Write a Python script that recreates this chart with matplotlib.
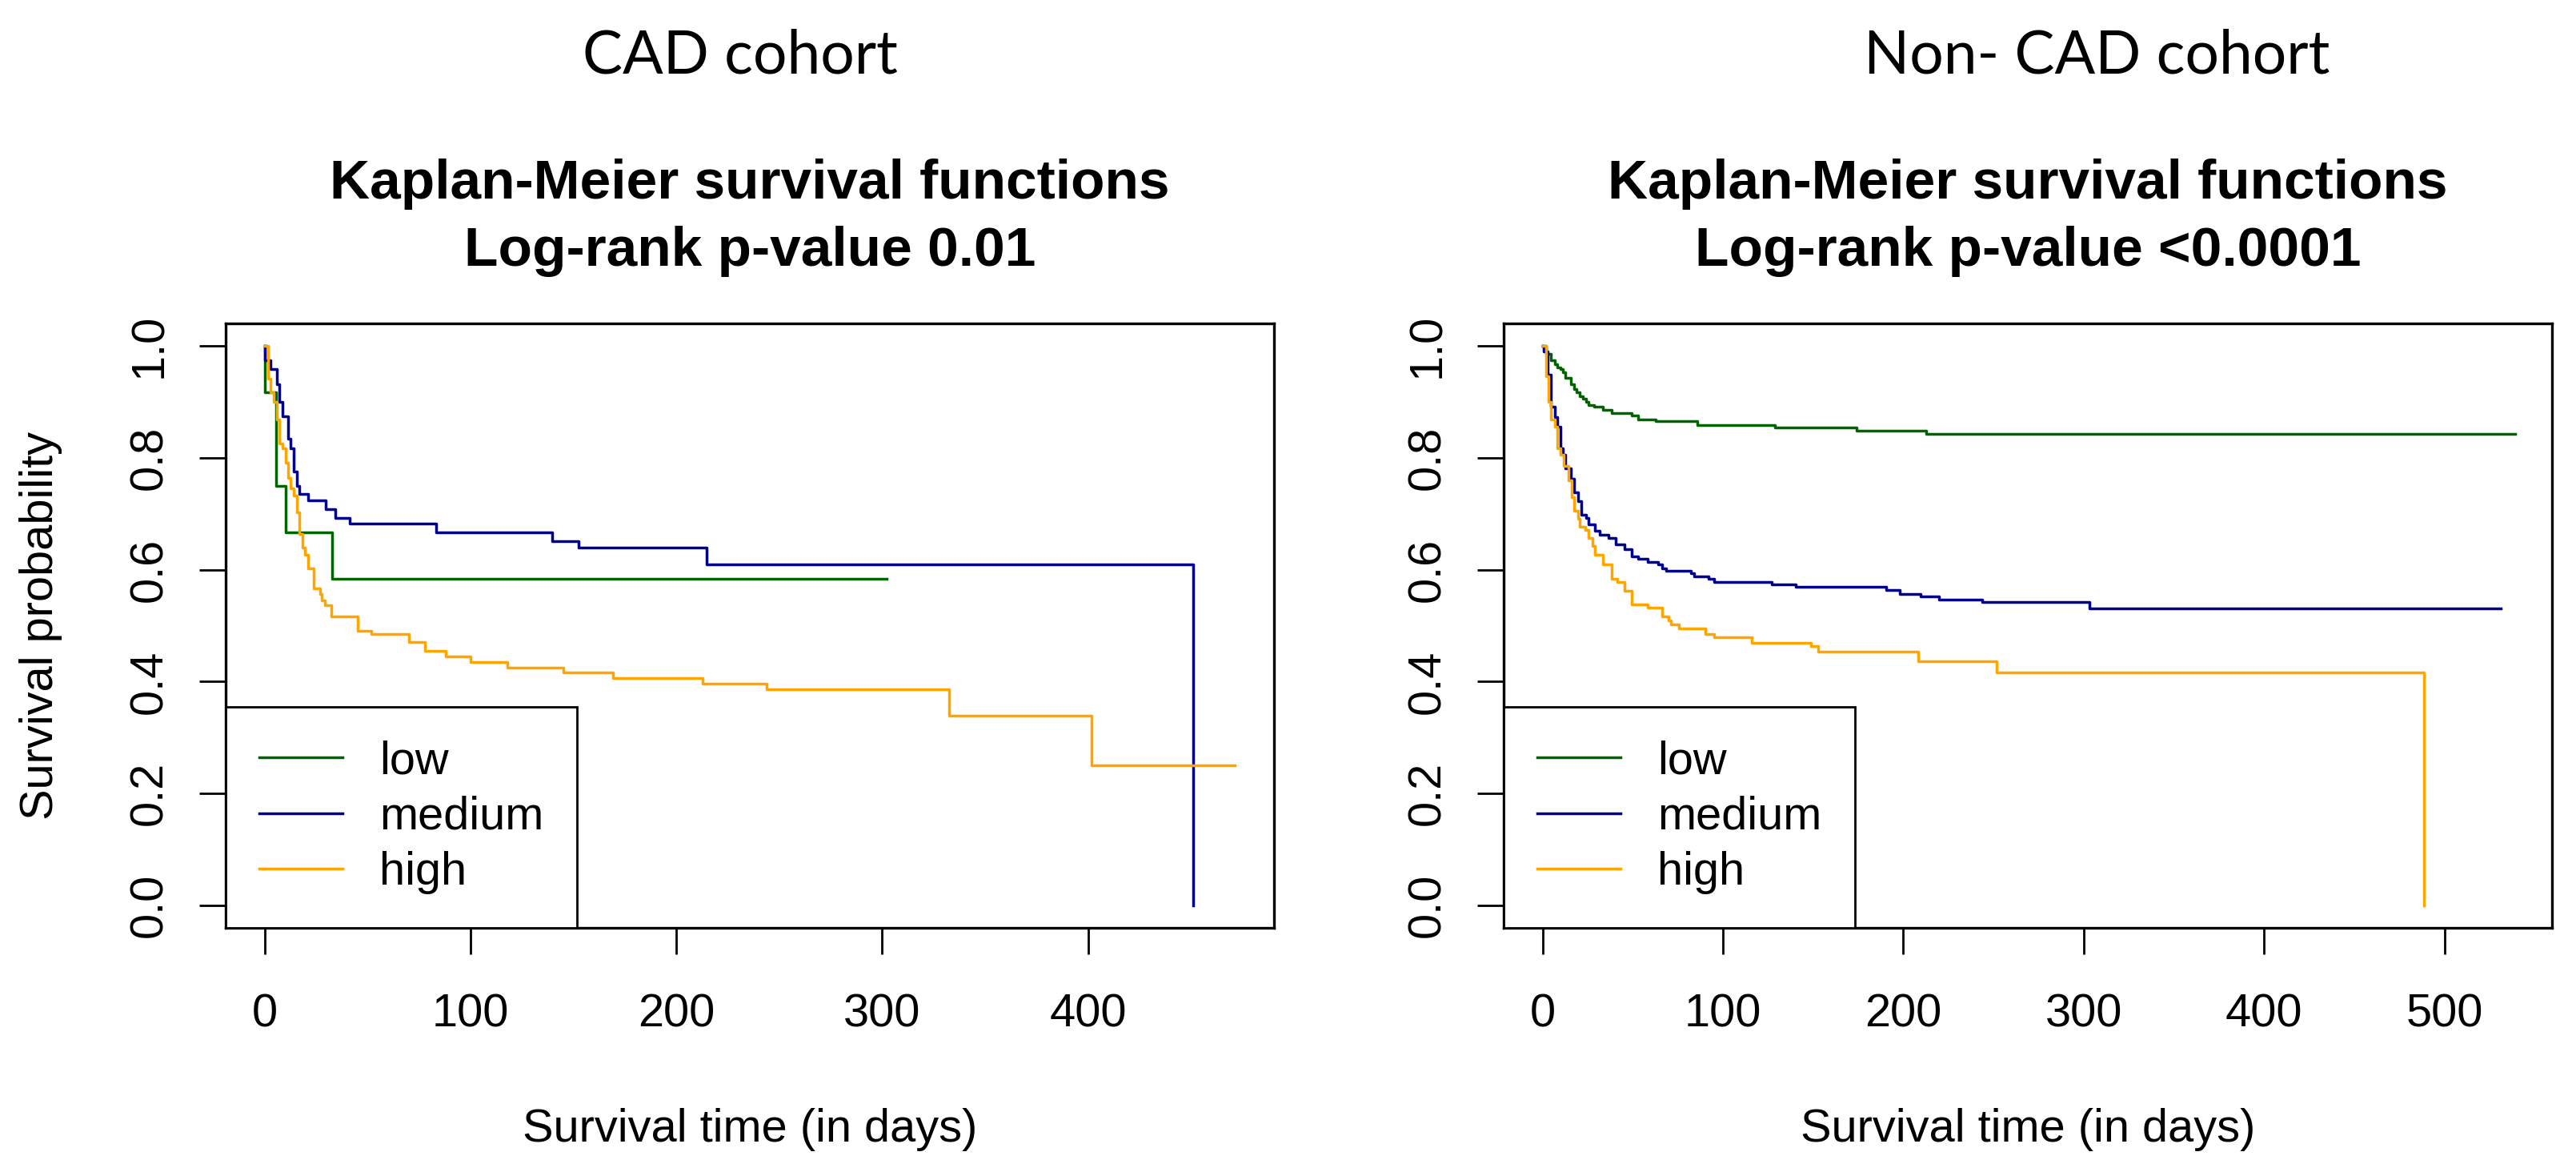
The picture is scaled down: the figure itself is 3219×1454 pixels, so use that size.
import matplotlib
matplotlib.use('Agg')
import matplotlib.pyplot as plt
from matplotlib.ticker import FormatStrFormatter, MultipleLocator

# ---- data (time in days, survival probability) ----
cad_low_t = [0, 0.3, 5.6, 10.2, 32.7, 302.4]
cad_low_s = [1.0, 0.917, 0.75, 0.667, 0.583, 0.583]

cad_med_t = [0, 0.3, 3.0, 5.9, 7.1, 8.6, 11.4, 12.8, 14.3, 15.6, 16.9, 21.2, 29.9,
             34.2, 41.3, 83.3, 139.6, 152.4, 214.7, 451.0]
cad_med_s = [1.0, 0.974, 0.959, 0.931, 0.900, 0.874, 0.834, 0.817, 0.775, 0.750,
             0.735, 0.724, 0.708, 0.693, 0.682, 0.667, 0.651, 0.640, 0.610, 0.0]

cad_high_t = [0, 1.9, 3.0, 4.5, 5.9, 7.1, 8.6, 10.3, 11.4, 12.8, 14.3, 15.6, 16.9,
              18.4, 19.8, 21.2, 24.0, 26.9, 27.8, 29.4, 32.4, 45.3, 52, 70, 78, 88,
              100, 118, 145, 169.3, 212.9, 244.0, 332.7, 401.9, 471.5]
cad_high_s = [1.0, 0.941, 0.917, 0.900, 0.869, 0.826, 0.817, 0.791, 0.764, 0.745,
              0.733, 0.702, 0.664, 0.640, 0.626, 0.602, 0.567, 0.556, 0.545, 0.536,
              0.516, 0.49, 0.485, 0.47, 0.455, 0.445, 0.435, 0.425, 0.416, 0.407,
              0.396, 0.386, 0.339, 0.251, 0.251]

non_low_t = [0, 1.8, 4.8, 6.8, 8.2, 9.8, 11.3, 12.7, 15.7, 17.3, 18.7, 20.7, 22.6,
             24.0, 25.6, 28.6, 33.6, 38.5, 49.4, 53.0, 62.9, 85.7, 128.8, 174.0,
             212.7, 539.3]
non_low_s = [1.0, 0.985, 0.974, 0.967, 0.962, 0.958, 0.953, 0.943, 0.931, 0.922,
             0.917, 0.910, 0.905, 0.900, 0.894, 0.891, 0.886, 0.880, 0.875, 0.869,
             0.865, 0.859, 0.854, 0.848, 0.843, 0.843]

non_med_t = [0, 0.5, 2.8, 4.8, 6.8, 8.2, 9.8, 11.3, 12.7, 15.7, 17.7, 19.7, 21.6,
             24.0, 25.6, 29.2, 31.6, 36.5, 40.5, 45.5, 49.4, 53.0, 58.4, 64.3, 66.3,
             68.3, 82.2, 84.1, 92.1, 95.1, 127.2, 140.3, 190.3, 198.2, 209.7, 219.7,
             243.5, 303.2, 531.3]
non_med_s = [1.0, 0.99, 0.948, 0.891, 0.872, 0.855, 0.817, 0.805, 0.781, 0.762,
             0.738, 0.722, 0.698, 0.693, 0.681, 0.669, 0.662, 0.657, 0.645, 0.636,
             0.624, 0.619, 0.614, 0.609, 0.602, 0.598, 0.593, 0.588, 0.583, 0.578,
             0.574, 0.569, 0.563, 0.557, 0.552, 0.547, 0.542, 0.531, 0.531]

non_high_t = [0, 1.8, 3.4, 4.8, 6.8, 8.2, 9.8, 11.7, 14.3, 16.1, 17.7, 19.7, 20.7,
              23.6, 25.6, 27.6, 29.2, 33.6, 38.5, 41.5, 45.5, 49.4, 58.4, 66.3, 69.7,
              71.3, 75.8, 90.1, 95.1, 115.9, 148.6, 152.6, 208.2, 251.8, 488.7]
non_high_s = [1.0, 0.946, 0.900, 0.869, 0.855, 0.817, 0.805, 0.786, 0.760, 0.729,
              0.705, 0.691, 0.676, 0.671, 0.657, 0.643, 0.626, 0.609, 0.583, 0.578,
              0.562, 0.538, 0.532, 0.516, 0.509, 0.502, 0.495, 0.485, 0.479, 0.469,
              0.464, 0.454, 0.437, 0.416, 0.0]

groups = ['low', 'medium', 'high']
colors = ['#006400', '#00008B', '#FFA500']
cohorts = ['CAD cohort', 'Non- CAD cohort']
pvalues = ['Log-rank p-value 0.01', 'Log-rank p-value <0.0001']
main_title = 'Kaplan-Meier survival functions'

W, H = 3219, 1454
FS = 41.6  # R base text size

plt.rcParams['font.family'] = ['Liberation Sans', 'DejaVu Sans']

fig = plt.figure(figsize=(W / 100, H / 100), dpi=100)
fig.patch.set_facecolor('white')


def px_box(x0, x1, y0, y1):
    # pixel box (top-left origin) -> figure fraction rect
    return [x0 / W, 1 - y1 / H, (x1 - x0) / W, (y1 - y0) / H]


def km_panel(rect, curves, xmax, cohort, pval, cohort_x, ylabel=False):
    ax = fig.add_axes(rect)
    for (t, s), g, c in zip(curves, groups, colors):
        ax.step(t, s, where='post', color=c, lw=2.5, label=g)
    ax.set_xlim(-0.04 * xmax, 1.04 * xmax)
    ax.set_ylim(-0.04, 1.04)
    ax.xaxis.set_major_locator(MultipleLocator(100))
    ax.yaxis.set_major_locator(MultipleLocator(0.2))
    ax.yaxis.set_major_formatter(FormatStrFormatter('%.1f'))
    for sp in ax.spines.values():
        sp.set_linewidth(2.4)
    ax.tick_params(direction='out', length=24, width=2, labelsize=FS)
    ax.tick_params(axis='x', pad=35)
    ax.tick_params(axis='y', pad=25)
    for lab in ax.get_yticklabels():
        lab.set_rotation(90)
        lab.set_va('center')

    leg = ax.legend(loc='lower left', borderaxespad=0, fancybox=False,
                    edgecolor='black', framealpha=1, fontsize=FS,
                    handlelength=1.8, handletextpad=0.8, borderpad=0.72,
                    labelspacing=0.27)
    leg.get_frame().set_linewidth(2.0)
    for ln in leg.get_lines():
        ln.set_linewidth(2.5)

    pos = ax.get_position()
    cx = pos.x0 + pos.width / 2
    fig.text(cx, 1 - 248 / H, main_title, ha='center', va='baseline',
             fontsize=50, fontweight='bold')
    fig.text(cx, 1 - 332 / H, pval, ha='center', va='baseline',
             fontsize=50, fontweight='bold')
    fig.text(cx, 1 - 1426 / H, 'Survival time (in days)', ha='center',
             va='baseline', fontsize=FS)
    fig.text(cohort_x / W, 1 - 91.5 / H, cohort, ha='center', va='baseline',
             fontsize=54, family=['Lato', 'DejaVu Sans'])
    if ylabel:
        fig.text(78 / W, 1 - 781 / H, 'Survival probability', rotation=90,
                 ha='right', va='center', fontsize=FS)
    return ax


km_panel(px_box(282, 1592, 404, 1159),
         [(cad_low_t, cad_low_s), (cad_med_t, cad_med_s), (cad_high_t, cad_high_s)],
         471.5, cohorts[0], pvalues[0], 925, ylabel=True)
km_panel(px_box(1879, 3189, 404, 1159),
         [(non_low_t, non_low_s), (non_med_t, non_med_s), (non_high_t, non_high_s)],
         538, cohorts[1], pvalues[1], 2620)

fig.savefig('out.png', dpi=100, facecolor='white')
